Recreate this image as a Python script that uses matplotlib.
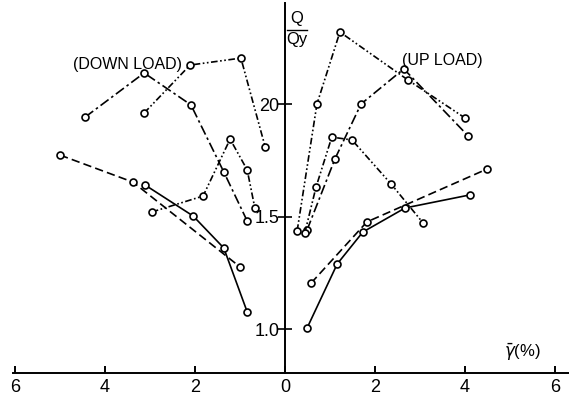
import matplotlib
matplotlib.use("Agg")
import matplotlib.pyplot as plt

plt.rcParams['font.family'] = ['Liberation Sans', 'DejaVu Sans']

# down load side (gamma plotted to the left as negative x)
down_a_x = [-4.44, -3.13, -2.09, -1.36, -0.84]
down_a_y = [1.942, 2.138, 1.996, 1.698, 1.48]
down_b_x = [-3.13, -2.11, -0.98, -0.44]
down_b_y = [1.96, 2.173, 2.204, 1.809]
down_c_x = [-2.96, -1.82, -1.22, -0.84, -0.67]
down_c_y = [1.52, 1.591, 1.844, 1.707, 1.538]
down_d_x = [-5.0, -3.38, -1.0]
down_d_y = [1.773, 1.653, 1.276]
down_e_x = [-3.11, -2.04, -1.36, -0.84]
down_e_y = [1.64, 1.502, 1.36, 1.076]

# up load side
up_a_x = [0.27, 0.71, 1.22, 2.73, 4.0]
up_a_y = [1.436, 2.0, 2.32, 2.107, 1.938]
up_b_x = [0.49, 1.11, 1.69, 2.64, 4.07]
up_b_y = [1.44, 1.756, 2.0, 2.156, 1.858]
up_c_x = [0.44, 0.69, 1.04, 1.49, 2.36, 3.07]
up_c_y = [1.427, 1.631, 1.853, 1.84, 1.644, 1.471]
up_d_x = [0.58, 1.82, 4.49]
up_d_y = [1.204, 1.476, 1.711]
up_e_x = [0.49, 1.16, 1.73, 2.67, 4.11]
up_e_y = [1.004, 1.289, 1.431, 1.538, 1.596]

x_ticks = [-6, -4, -2, 0, 2, 4, 6]
x_labels = ["6", "4", "2", "0", "2", "4", "6"]
y_ticks = [1.0, 1.5, 2.0]
y_labels = ["1.0", "1.5", "20"]

dashdot = (0, (6, 2, 1.5, 2))
dashdotdot = (0, (4, 1.5, 1, 1.5, 1, 1.5))
dashed = (0, (5, 2.5))

fig = plt.figure(figsize=(5.69, 3.97), dpi=100)
ax = fig.add_axes([0, 0, 1, 1])
ax.set_xlim(-285 / 45, 284 / 45)
ax.set_ylim(1 + (329 - 397) / 225, 1 + 329 / 225)

style = dict(color='black', lw=1.2, marker='o', markersize=5,
             markerfacecolor='white', markeredgecolor='black', markeredgewidth=1.2)

ax.plot(down_a_x, down_a_y, ls=dashdot, **style)
ax.plot(down_b_x, down_b_y, ls=dashdotdot, **style)
ax.plot(down_c_x, down_c_y, ls=dashdotdot, **style)
ax.plot(down_d_x, down_d_y, ls=dashed, **style)
ax.plot(down_e_x, down_e_y, ls='-', **style)

ax.plot(up_a_x, up_a_y, ls=dashdotdot, **style)
ax.plot(up_b_x, up_b_y, ls=dashdot, **style)
ax.plot(up_c_x, up_c_y, ls=dashdotdot, **style)
ax.plot(up_d_x, up_d_y, ls=dashed, **style)
ax.plot(up_e_x, up_e_y, ls='-', **style)

# axes drawn through the origin like the original figure
y_base = 0.804
for s in ['top', 'right']:
    ax.spines[s].set_visible(False)
ax.spines['bottom'].set_position(('data', y_base))
ax.spines['bottom'].set_bounds(-6.04, 6.31)
ax.spines['left'].set_position(('data', 0))
ax.spines['left'].set_bounds(y_base, 2.45)
for s in ['bottom', 'left']:
    ax.spines[s].set_linewidth(1.4)

ax.set_xticks(x_ticks)
ax.set_xticklabels(x_labels)
ax.set_yticks(y_ticks)
ax.set_yticklabels(y_labels)
ax.tick_params(axis='x', direction='in', length=5, width=1.4, labelsize=13, pad=4)
ax.tick_params(axis='y', direction='inout', length=10, width=1.2, labelsize=13, pad=-1)

ax.text(-4.7, 2.175, "(DOWN LOAD)", fontsize=11.5, ha='left', va='center')
ax.text(3.49, 2.193, "(UP LOAD)", fontsize=11.5, ha='center', va='center')
ax.text(0.27, 2.38, "Q", fontsize=12, ha='center', va='center')
ax.plot([0.04, 0.5], [2.33, 2.33], color='black', lw=1)
ax.text(0.27, 2.285, "Qy", fontsize=12, ha='center', va='center')
ax.text(5.27, 0.898, r"$\bar{\gamma}$(%)", fontsize=12, ha='center', va='center')

fig.savefig("out.png", dpi=100)
